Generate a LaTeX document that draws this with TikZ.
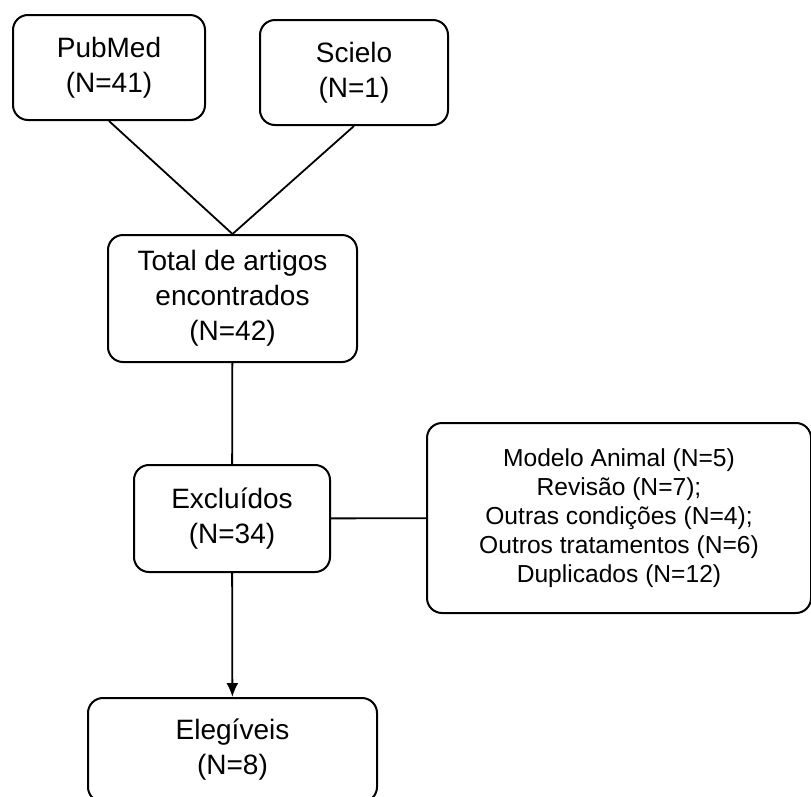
\documentclass[tikz,border=0pt]{standalone}
\usepackage{fontspec}
\setmainfont{Liberation Sans}
\usetikzlibrary{arrows.meta,positioning}
\tikzset{>={Latex[length=14pt,width=12pt]}}
\tikzset{box/.style={draw,line width=2pt,rounded corners=15pt,align=center,inner sep=0pt,
    font=\fontsize{28}{35}\selectfont}}

\begin{document}
\begin{tikzpicture}[x=1pt,y=-1pt]
    \useasboundingbox (0,0) rectangle (811,796);
    \clip (0,0) rectangle (811,796);
    \node [box,minimum width=192pt,minimum height=105pt] (pubmed) at (109,67.5) {PubMed\\(N=41)};
    \node [box,minimum width=188pt,minimum height=105pt] (scielo) at (354,72.5) {Scielo\\(N=1)};
    \node [box,minimum width=249pt,minimum height=127pt] (total) at (232.5,298.5) {Total de artigos\\encontrados\\(N=42)};
    \node [box,minimum width=196pt,minimum height=107pt] (excl) at (232,518.5) {Excluídos\\(N=34)};
    \node [box,minimum width=384pt,minimum height=190pt,font=\fontsize{24.6}{29}\selectfont] (motivos) at (619,518)
      {Modelo Animal (N=5)\\Revisão (N=7);\\Outras condições (N=4);\\Outros tratamentos (N=6)\\Duplicados (N=12)};
    \node [box,minimum width=289pt,minimum height=104pt] (eleg) at (232.5,750) {Elegíveis\\(N=8)};
    \draw [line width=1.8pt] (pubmed.south) -- (total.north);
    \draw [line width=1.8pt] (scielo.south) -- (total.north);
    \draw [line width=1.8pt] (total) -- (excl);
    \draw [line width=1.8pt] (excl) -- (motivos);
    \draw [->,line width=1.8pt] (excl) -- (eleg);
  \end{tikzpicture}
\end{document}
